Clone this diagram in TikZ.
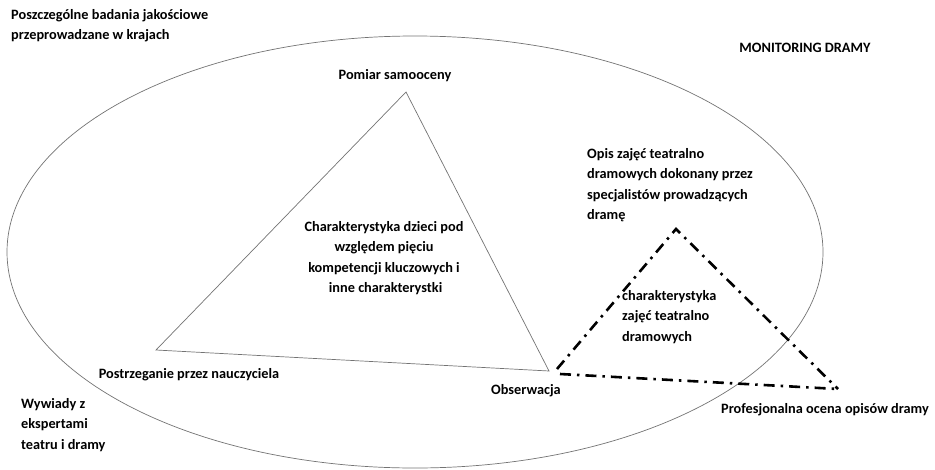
\documentclass[tikz,border=0pt]{standalone}
\usepackage{fontspec}
\setmainfont{Carlito}
\tikzset{
  label/.style={font=\bfseries\fontsize{14.3}{20.5}\selectfont, inner sep=0pt},
  thin line/.style={draw=black!55, line width=0.7pt},
  dashdot line/.style={draw=black, line width=2.6pt, dash pattern=on 11pt off 6pt on 2.5pt off 6pt}
}
\begin{document}
\begin{tikzpicture}[x=1pt, y=-1pt]
            \useasboundingbox (0,0) rectangle (935,469);
            % Outer ellipse
            \draw[thin line] (415,252) ellipse [x radius=408, y radius=216];
            \coordinate (S) at (406,92);   % Pomiar samooceny
            \coordinate (N) at (156,350);  % Postrzeganie przez nauczyciela
            \coordinate (O) at (549,371);  % Obserwacja
            \coordinate (D) at (676,229);  % Opis zajec
            \coordinate (P) at (838,389);  % Profesjonalna ocena
            \coordinate (Q) at (557,369);
            \coordinate (R) at (560,374);
            \draw[thin line] (S) -- (N) -- (O) -- cycle;   % Triangle of children
            \draw[dashdot line] (Q) -- (D) -- (P);         % Dashed triangle
            \draw[dashdot line] (R) -- (P);
            \node[label, align=left, anchor=north west] (countries) at (11,9) {Poszczególne badania jakościowe\\przeprowadzane w krajach};
            \node[label] (title) at (805,48) {MONITORING DRAMY};
            \node[label] (self) at (395,76) {Pomiar samooceny};
            \node[label, align=center] (children) at (384,258) {Charakterystyka dzieci pod\\względem pięciu\\kompetencji kluczowych i\\\ inne charakterystki};
            \node[label, align=left, anchor=north west] (descr) at (587,148) {Opis zajęć teatralno\\dramowych dokonany przez\\specjalistów prowadzących\\dramę};
            \node[label, align=left, anchor=north west] (classes) at (622,290) {charakterystyka\\zajęć teatralno\\dramowych};
            \node[label] (teacher) at (189,375) {Postrzeganie przez nauczyciela};
            \node[label] (obs) at (526,391) {Obserwacja};
            \node[label] (prof) at (825,410) {Profesjonalna ocena opisów dramy};
            \node[label, align=left, anchor=north west] (experts) at (21,398) {Wywiady z\\ekspertami\\teatru i dramy};
        \end{tikzpicture}
\end{document}
